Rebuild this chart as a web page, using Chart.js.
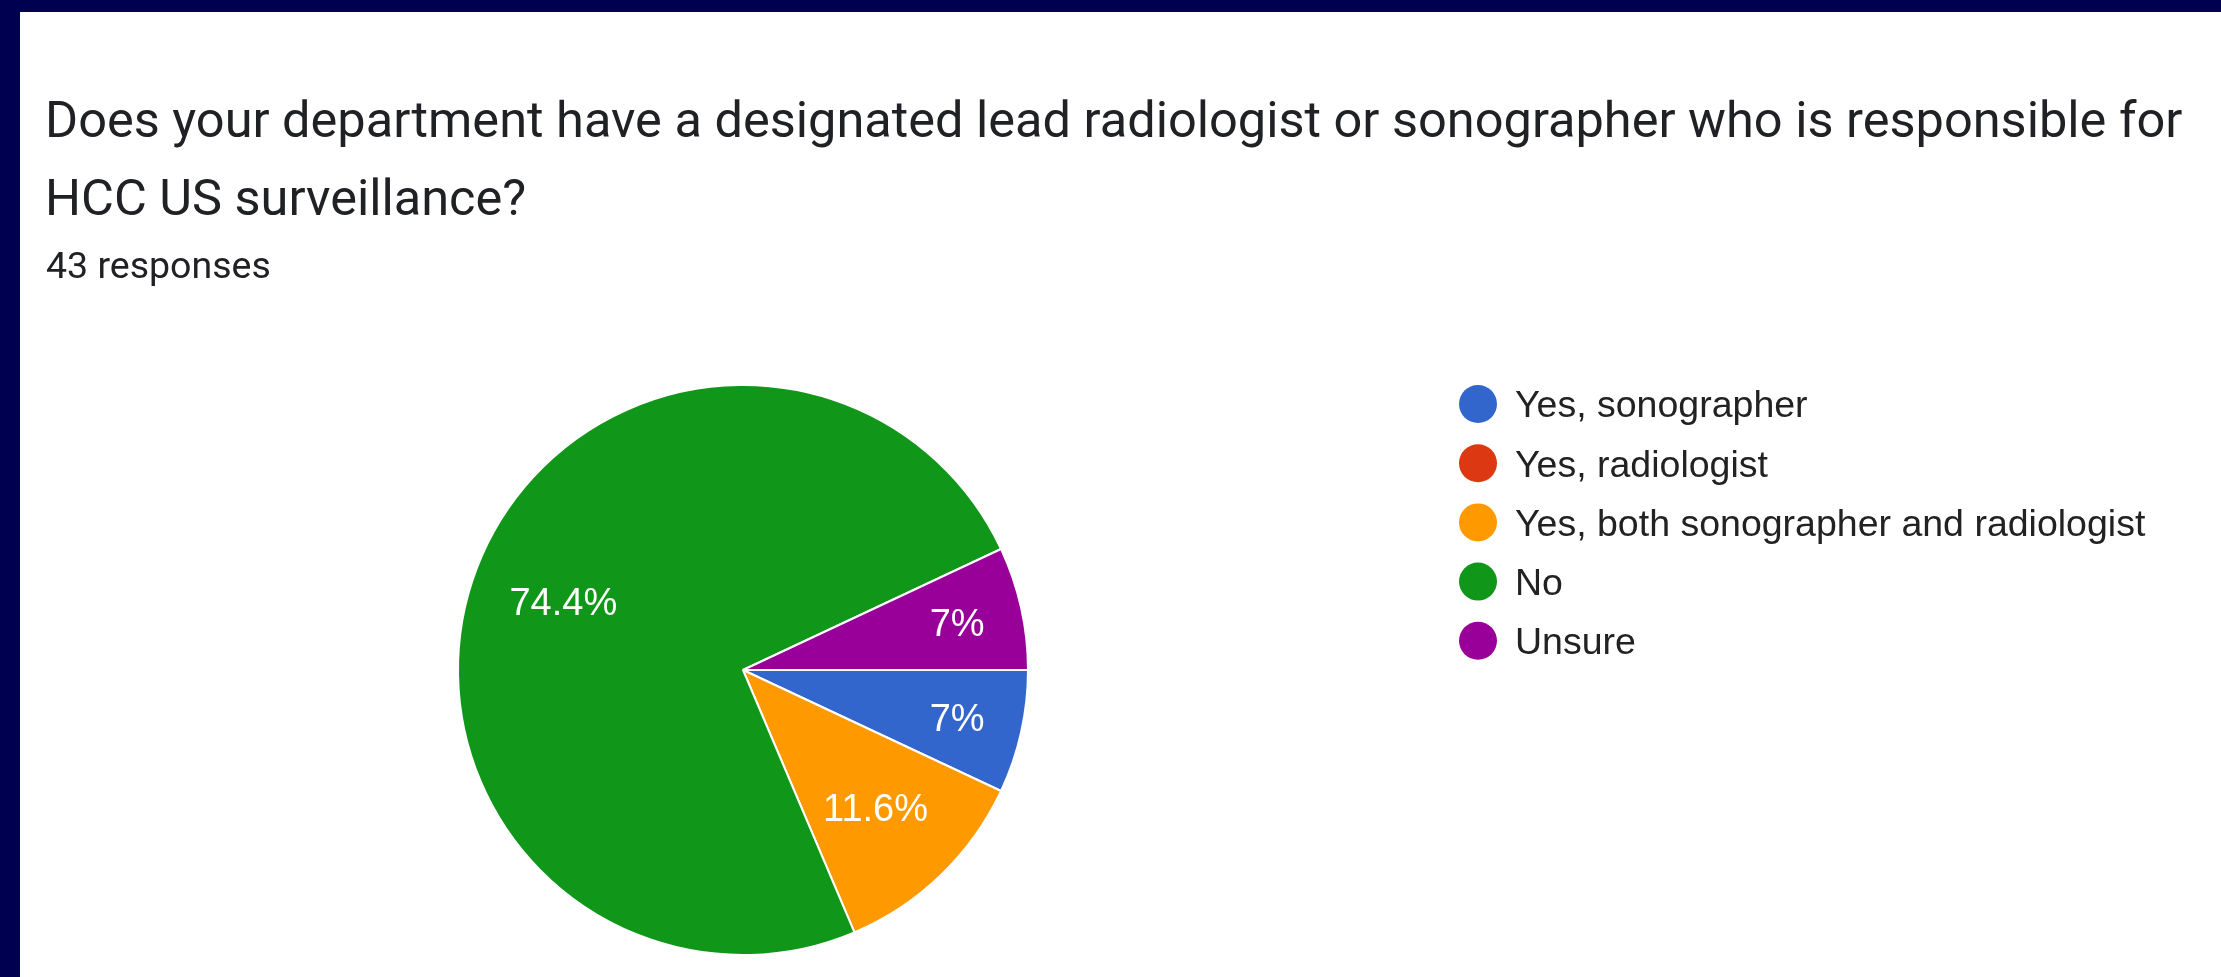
<!DOCTYPE html>
<html><head><meta charset="utf-8">
<script src="https://cdn.jsdelivr.net/npm/chart.js@4"></script>
<style>
html,body{margin:0;padding:0;background:#000050;width:2221px;height:977px;overflow:hidden}
#wrap{position:absolute;left:20px;top:12px;width:2201px;height:965px;background:#fff}
canvas{display:block}
</style></head><body><div id="wrap"><canvas id="c" width="2201" height="965"></canvas></div>
<script>
const titleLines = ["Does your department have a designated lead radiologist or sonographer who is responsible for", "HCC US surveillance?"];
const subtitleText = "43 responses";
const categories = ["Yes, sonographer", "Yes, radiologist", "Yes, both sonographer and radiologist", "No", "Unsure"];
const responses = [3, 0, 5, 32, 3];
const sliceColors = ["#3366CC", "#DC3912", "#FF9900", "#109618", "#990099"];

// style constants (page coordinates, canvas offset by frame)
const OX = 20, OY = 12;
const labelRadius = [0.77, 0.77, 0.67, 0.675, 0.77];
const ARIAL = '"Liberation Sans", Arial, sans-serif';
const LABEL_SIZE = 38, LEGEND_SIZE = 37.5;
const total = responses.reduce((a, b) => a + b, 0);
const pctText = v => { const p = (v / total * 100).toFixed(1); return (p.endsWith('.0') ? p.slice(0, -2) : p) + '%'; };

const decor = {
  id: 'decor',
  afterDraw(chart) {
    const ctx = chart.ctx;
    ctx.save();
    ctx.textAlign = 'left';
    ctx.textBaseline = 'alphabetic';
    ctx.fillStyle = '#202124';
    ctx.font = '50.5px Roboto';
    ctx.fillText(titleLines[0], 45 - OX, 137 - OY);
    ctx.fillText(titleLines[1], 45 - OX, 215 - OY);
    ctx.font = '37.5px Roboto';
    ctx.fillText(subtitleText, 46 - OX, 278 - OY);

    // slice labels
    const meta = chart.getDatasetMeta(0);
    ctx.fillStyle = '#ffffff';
    ctx.textAlign = 'center';
    ctx.font = LABEL_SIZE + 'px ' + ARIAL;
    meta.data.forEach((arc, i) => {
      if (!responses[i]) return;
      const p = arc.getProps(['x', 'y', 'startAngle', 'endAngle', 'outerRadius'], true);
      const mid = (p.startAngle + p.endAngle) / 2;
      const rr = p.outerRadius * labelRadius[i];
      ctx.fillText(pctText(responses[i]), p.x + Math.cos(mid) * rr, p.y + Math.sin(mid) * rr + LABEL_SIZE * 0.355);
    });

    // legend
    ctx.textAlign = 'left';
    ctx.font = LEGEND_SIZE + 'px ' + ARIAL;
    categories.forEach((c, i) => {
      const cy = 404 + i * 59.2 - OY;
      ctx.fillStyle = sliceColors[i];
      ctx.beginPath();
      ctx.arc(1478 - OX, cy, 19, 0, Math.PI * 2);
      ctx.fill();
      ctx.fillStyle = '#222222';
      ctx.fillText(c, 1515 - OX, cy + LEGEND_SIZE * 0.355);
    });
    ctx.restore();
  }
};

new Chart(document.getElementById('c'), {
  type: 'pie',
  data: {
    labels: categories,
    datasets: [{
      data: responses,
      backgroundColor: sliceColors,
      borderColor: '#ffffff',
      borderWidth: 2,
      hoverOffset: 0
    }]
  },
  options: {
    responsive: false,
    animation: false,
    devicePixelRatio: 1,
    rotation: 90,
    radius: 285,
    layout: { padding: { left: 0, right: 755, top: 351, bottom: 0 } },
    plugins: { legend: { display: false }, tooltip: { enabled: false }, title: { display: false } }
  },
  plugins: [decor]
});
</script></body></html>
